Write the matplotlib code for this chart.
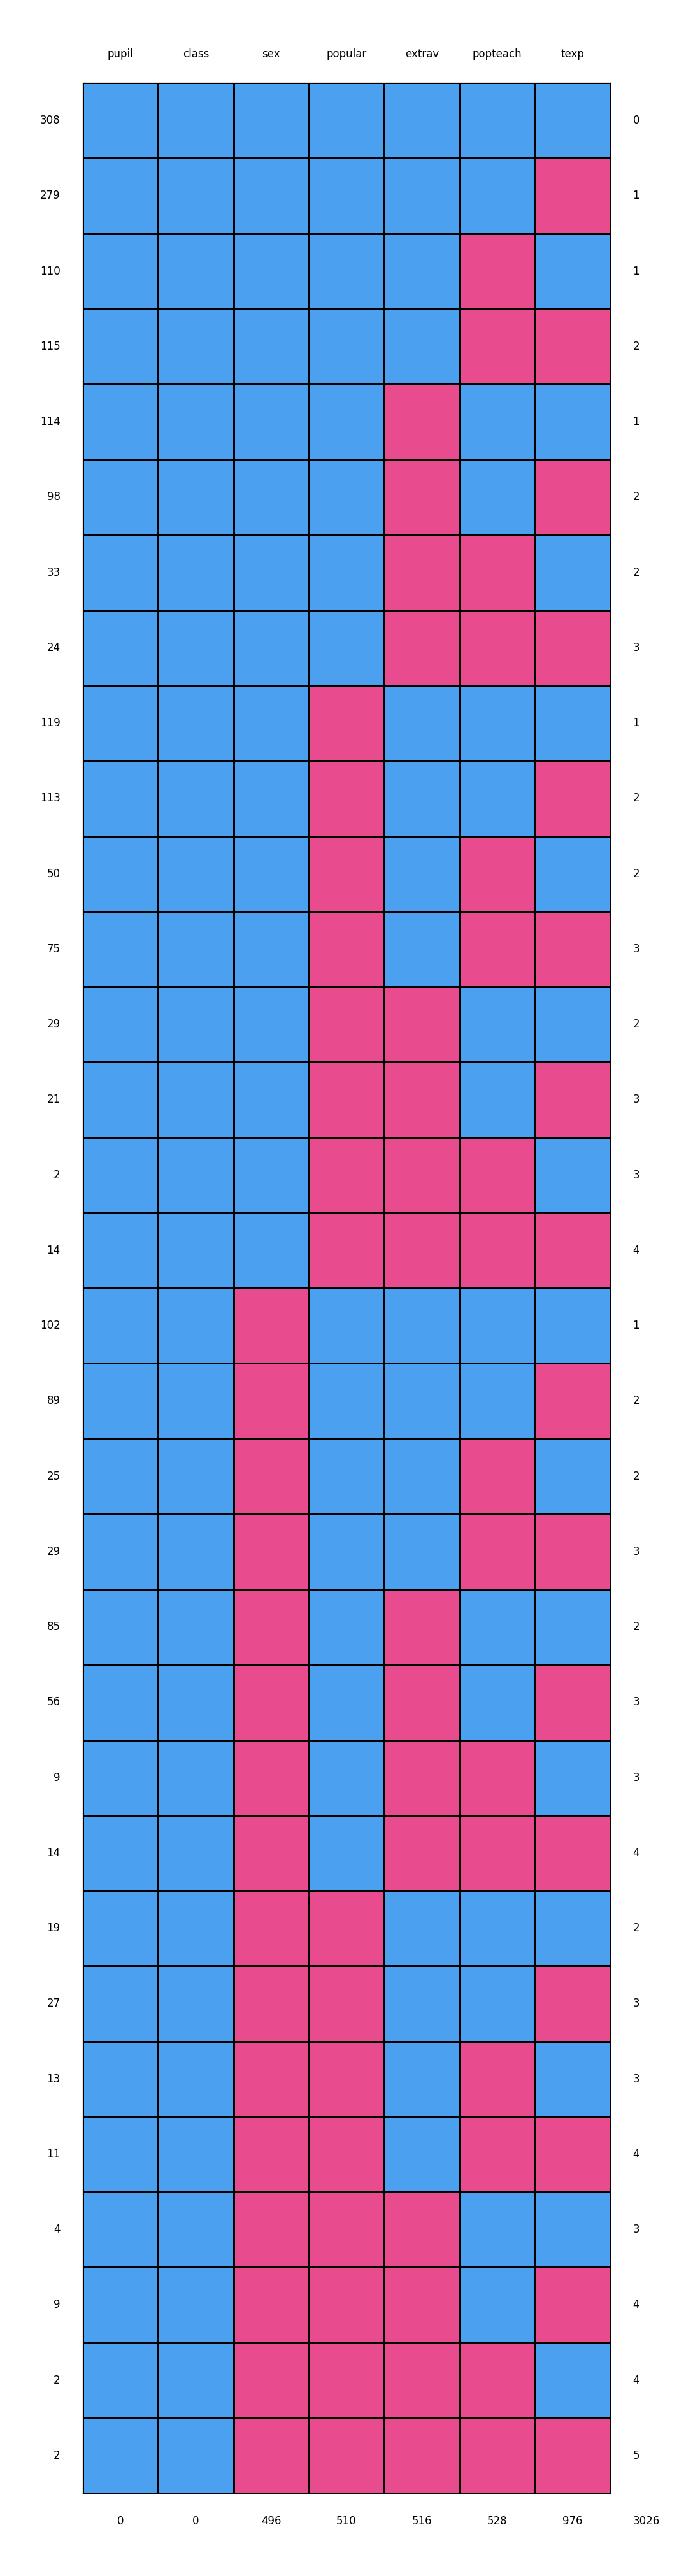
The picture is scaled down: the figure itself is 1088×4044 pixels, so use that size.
import numpy as np
import matplotlib
matplotlib.use('Agg')
import matplotlib.pyplot as plt
from matplotlib.colors import ListedColormap

# variables (columns of the missing data pattern)
variables = ['pupil', 'class', 'sex', 'popular', 'extrav', 'popteach', 'texp']

# 1 = observed, 0 = missing, one row per pattern
patterns = [
    [1, 1, 1, 1, 1, 1, 1],
    [1, 1, 1, 1, 1, 1, 0],
    [1, 1, 1, 1, 1, 0, 1],
    [1, 1, 1, 1, 1, 0, 0],
    [1, 1, 1, 1, 0, 1, 1],
    [1, 1, 1, 1, 0, 1, 0],
    [1, 1, 1, 1, 0, 0, 1],
    [1, 1, 1, 1, 0, 0, 0],
    [1, 1, 1, 0, 1, 1, 1],
    [1, 1, 1, 0, 1, 1, 0],
    [1, 1, 1, 0, 1, 0, 1],
    [1, 1, 1, 0, 1, 0, 0],
    [1, 1, 1, 0, 0, 1, 1],
    [1, 1, 1, 0, 0, 1, 0],
    [1, 1, 1, 0, 0, 0, 1],
    [1, 1, 1, 0, 0, 0, 0],
    [1, 1, 0, 1, 1, 1, 1],
    [1, 1, 0, 1, 1, 1, 0],
    [1, 1, 0, 1, 1, 0, 1],
    [1, 1, 0, 1, 1, 0, 0],
    [1, 1, 0, 1, 0, 1, 1],
    [1, 1, 0, 1, 0, 1, 0],
    [1, 1, 0, 1, 0, 0, 1],
    [1, 1, 0, 1, 0, 0, 0],
    [1, 1, 0, 0, 1, 1, 1],
    [1, 1, 0, 0, 1, 1, 0],
    [1, 1, 0, 0, 1, 0, 1],
    [1, 1, 0, 0, 1, 0, 0],
    [1, 1, 0, 0, 0, 1, 1],
    [1, 1, 0, 0, 0, 1, 0],
    [1, 1, 0, 0, 0, 0, 1],
    [1, 1, 0, 0, 0, 0, 0],
]

# number of rows with each pattern
pattern_counts = [308, 279, 110, 115, 114, 98, 33, 24, 119, 113, 50, 75, 29, 21, 2, 14,
                  102, 89, 25, 29, 85, 56, 9, 14, 19, 27, 13, 11, 4, 9, 2, 2]

# number of missing variables in each pattern
missing_per_pattern = [0, 1, 1, 2, 1, 2, 2, 3, 1, 2, 2, 3, 2, 3, 3, 4,
                       1, 2, 2, 3, 2, 3, 3, 4, 2, 3, 3, 4, 3, 4, 4, 5]

# number of missing values per variable, plus total
missing_per_variable = [0, 0, 496, 510, 516, 528, 976]
total_missing = 3026

W, H = 1088, 4044
fig = plt.figure(figsize=(W / 100, H / 100), dpi=100)
ax = fig.add_axes([130 / W, 130 / H, 828 / W, 3784 / H])

n_rows = len(patterns)
n_cols = len(variables)
cmap = ListedColormap(['#e84c8f', '#4ba0f0'])
ax.pcolormesh(np.array(patterns), cmap=cmap, vmin=0, vmax=1,
              edgecolors='black', linewidth=0.75)
ax.set_xlim(0, n_cols)
ax.set_ylim(n_rows, 0)
ax.set_xticks([])
ax.set_yticks([])
for s in ax.spines.values():
    s.set_linewidth(0.9)

fs = 12
# column labels on top, totals at the bottom
for j, name in enumerate(variables):
    ax.text(j + 0.5, -0.38, name, ha='center', va='center', fontsize=fs)
    ax.text(j + 0.5, n_rows + 0.37, str(missing_per_variable[j]),
            ha='center', va='center', fontsize=fs)
ax.text(n_cols + 0.3, n_rows + 0.37, str(total_missing),
        ha='left', va='center', fontsize=fs)

# pattern counts on the left, missing count on the right
for i in range(n_rows):
    ax.text(-0.3, i + 0.5, str(pattern_counts[i]), ha='right', va='center', fontsize=fs)
    ax.text(n_cols + 0.3, i + 0.5, str(missing_per_pattern[i]),
            ha='left', va='center', fontsize=fs)

fig.savefig('out.png', dpi=100)
